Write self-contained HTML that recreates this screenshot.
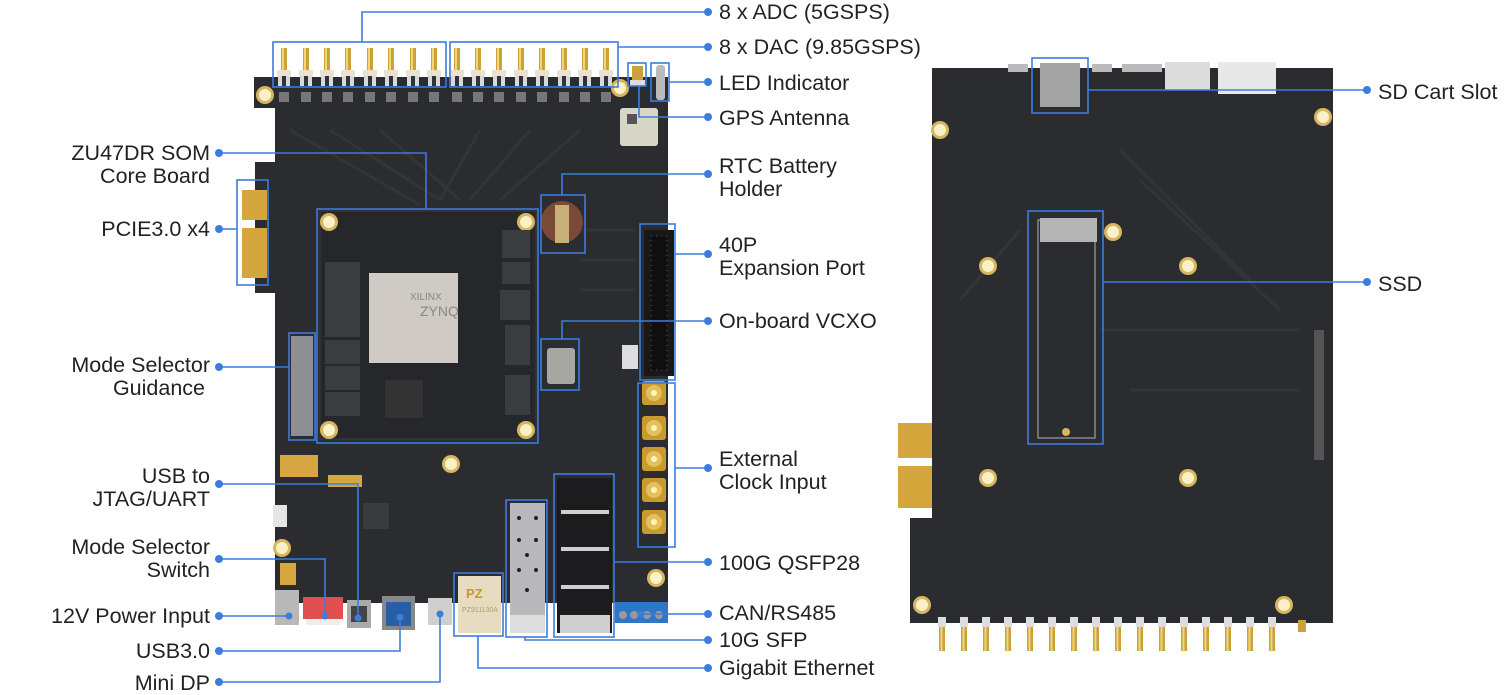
<!DOCTYPE html>
<html><head><meta charset="utf-8"><style>
html,body{margin:0;padding:0;background:#fff;}
svg{display:block;}
text{font-family:"Liberation Sans",sans-serif;font-size:21.5px;fill:#222;}
</style></head><body>
<svg width="1508" height="695" viewBox="0 0 1508 695" xmlns="http://www.w3.org/2000/svg">
<defs>
<g id="smaV">
  <rect x="-3" y="0" width="6" height="24" fill="#c9a23a"/>
  <rect x="-2" y="0" width="2" height="24" fill="#f0d77a"/>
  <rect x="-7" y="22" width="14" height="6" fill="#e8e2cf"/>
  <rect x="-6" y="28" width="12" height="10" fill="#d8d8d8"/>
  <rect x="-2" y="28" width="4" height="10" fill="#333"/>
</g>
<g id="smaB">
  <rect x="-4" y="-8" width="8" height="10" fill="#ddd"/>
  <rect x="-3" y="2" width="6" height="24" fill="#c9a23a"/>
  <rect x="-1.5" y="2" width="2" height="24" fill="#f0d77a"/>
</g>
<g id="smaF">
  <rect x="-12" y="-12" width="24" height="24" rx="3" fill="#c99a2e"/>
  <circle r="8" fill="#e3c05a"/><circle r="3" fill="#fff3c0"/>
</g>
<g id="hole"><circle r="9" fill="#d6b760"/><circle r="6" fill="#fbf1c8"/></g>
</defs>

<!-- LEFT BOARD -->
<polygon points="254,77 668,77 668,603 275,603 275,293 255,293 255,162 275,162 275,108 254,108" fill="#2b2c30"/>
<g stroke="#333438" stroke-width="3" fill="none">
<path d="M290,130 L420,205 M330,130 L440,200 M380,130 L460,200 M480,130 L440,200 M530,130 L470,200 M580,130 L500,200"/>
<path d="M580,230 H635 M580,260 H635 M580,290 H635"/>
</g>
<g>
<use href="#smaV" x="284" y="48"/><use href="#smaV" x="306" y="48"/><use href="#smaV" x="327" y="48"/><use href="#smaV" x="348" y="48"/>
<use href="#smaV" x="370" y="48"/><use href="#smaV" x="391" y="48"/><use href="#smaV" x="413" y="48"/><use href="#smaV" x="434" y="48"/>
<use href="#smaV" x="457" y="48"/><use href="#smaV" x="478" y="48"/><use href="#smaV" x="499" y="48"/><use href="#smaV" x="521" y="48"/>
<use href="#smaV" x="542" y="48"/><use href="#smaV" x="564" y="48"/><use href="#smaV" x="585" y="48"/><use href="#smaV" x="606" y="48"/>
</g>
<g fill="#777">
<rect x="279" y="92" width="10" height="10"/><rect x="301" y="92" width="10" height="10"/><rect x="322" y="92" width="10" height="10"/><rect x="343" y="92" width="10" height="10"/>
<rect x="365" y="92" width="10" height="10"/><rect x="386" y="92" width="10" height="10"/><rect x="408" y="92" width="10" height="10"/><rect x="429" y="92" width="10" height="10"/>
<rect x="452" y="92" width="10" height="10"/><rect x="473" y="92" width="10" height="10"/><rect x="494" y="92" width="10" height="10"/><rect x="516" y="92" width="10" height="10"/>
<rect x="537" y="92" width="10" height="10"/><rect x="559" y="92" width="10" height="10"/><rect x="580" y="92" width="10" height="10"/><rect x="601" y="92" width="10" height="10"/>
</g>
<use href="#hole" x="265" y="95"/><use href="#hole" x="620" y="88"/>
<rect x="632" y="66" width="11" height="14" fill="#c9a23a"/><rect x="630" y="80" width="15" height="6" fill="#ddd"/>
<rect x="656" y="65" width="9" height="35" rx="3" fill="#bbb"/>
<rect x="620" y="108" width="38" height="38" rx="3" fill="#d8d6c6"/><rect x="627" y="114" width="10" height="10" fill="#555"/>
<rect x="242" y="190" width="25" height="30" fill="#d4a63c"/><rect x="242" y="228" width="25" height="50" fill="#d4a63c"/>
<rect x="291" y="336" width="22" height="100" fill="#8d8f94"/>
<rect x="320" y="211" width="216" height="228" fill="#26272a" stroke="#3a3b3f"/>
<use href="#hole" x="329" y="222"/><use href="#hole" x="526" y="222"/><use href="#hole" x="329" y="430"/><use href="#hole" x="526" y="430"/>
<rect x="369" y="273" width="89" height="90" fill="#cfcac3"/>
<text x="410" y="300" style="font-size:10px;fill:#888">XILINX</text>
<text x="420" y="316" style="font-size:14px;fill:#888">ZYNQ</text>
<g fill="#3b3c40"><rect x="325" y="262" width="35" height="75"/><rect x="325" y="340" width="35" height="24"/><rect x="325" y="366" width="35" height="24"/><rect x="325" y="392" width="35" height="24"/>
<rect x="502" y="230" width="28" height="28"/><rect x="502" y="262" width="28" height="22"/><rect x="500" y="290" width="30" height="30"/><rect x="505" y="325" width="25" height="40"/><rect x="505" y="375" width="25" height="40"/></g>
<rect x="385" y="380" width="38" height="38" fill="#333"/>
<circle cx="562" cy="222" r="21" fill="#7a4a36"/><rect x="555" y="205" width="14" height="38" fill="#c8b07a"/>
<rect x="644" y="230" width="30" height="146" fill="#18181a"/>
<rect x="651" y="236" width="16" height="134" fill="#0f0f10" stroke="#555" stroke-dasharray="1 4"/>
<rect x="547" y="348" width="28" height="36" rx="3" fill="#a7a6a1"/>
<rect x="622" y="345" width="16" height="24" fill="#ddd"/>
<use href="#smaF" x="654" y="393"/><use href="#smaF" x="654" y="428"/><use href="#smaF" x="654" y="459"/><use href="#smaF" x="654" y="490"/><use href="#smaF" x="654" y="522"/>
<use href="#hole" x="451" y="464"/><use href="#hole" x="656" y="578"/><use href="#hole" x="282" y="548"/>
<rect x="280" y="455" width="38" height="22" fill="#d8a640"/><rect x="328" y="475" width="34" height="12" fill="#d8a640"/>
<rect x="280" y="563" width="16" height="22" fill="#d8a640"/>
<rect x="273" y="505" width="14" height="22" fill="#e5e5e5"/>
<rect x="363" y="503" width="26" height="26" fill="#3a3b3f"/>
<rect x="275" y="590" width="24" height="35" fill="#b8b8b8"/>
<rect x="303" y="597" width="40" height="22" fill="#e05050"/><rect x="306" y="619" width="34" height="6" fill="#eee"/>
<rect x="347" y="600" width="24" height="28" fill="#aaa"/><rect x="351" y="606" width="16" height="16" fill="#444"/>
<rect x="382" y="596" width="33" height="34" fill="#888"/><rect x="386" y="602" width="25" height="24" fill="#2a5fa8"/>
<rect x="428" y="598" width="24" height="27" fill="#cfcfcf"/>
<rect x="458" y="576" width="43" height="57" fill="#e8dcc0"/>
<text x="466" y="598" style="font-size:13px;fill:#c09a2a;font-weight:bold">PZ</text>
<text x="462" y="612" style="font-size:7px;fill:#b09a6a">PZ911130A</text>
<rect x="510" y="503" width="35" height="130" fill="#b9b9bb"/>
<g fill="#222"><circle cx="519" cy="518" r="2"/><circle cx="536" cy="518" r="2"/><circle cx="519" cy="540" r="2"/><circle cx="536" cy="540" r="2"/><circle cx="527" cy="555" r="2"/><circle cx="519" cy="570" r="2"/><circle cx="536" cy="570" r="2"/><circle cx="527" cy="590" r="2"/></g>
<rect x="510" y="615" width="35" height="18" fill="#ddd"/>
<rect x="557" y="478" width="55" height="155" fill="#1c1c1e"/>
<g fill="#cfcfcf"><rect x="561" y="510" width="48" height="4"/><rect x="561" y="547" width="48" height="4"/><rect x="561" y="585" width="48" height="4"/><rect x="560" y="615" width="50" height="18"/></g>
<rect x="615" y="602" width="53" height="21" fill="#2d76c8"/>
<g fill="#999"><circle cx="623" cy="615" r="4"/><circle cx="634" cy="615" r="4"/><circle cx="647" cy="615" r="4"/><circle cx="659" cy="615" r="4"/></g>

<!-- RIGHT BOARD -->
<polygon points="932,68 1333,68 1333,623 910,623 910,518 932,518" fill="#2b2c30"/>
<rect x="898" y="423" width="34" height="35" fill="#d4a63c"/><rect x="898" y="466" width="34" height="42" fill="#d4a63c"/>
<rect x="898" y="458" width="34" height="8" fill="#fff"/>
<g stroke="#333438" stroke-width="3" fill="none"><path d="M1120,150 L1250,280 M1140,180 L1280,310 M960,300 L1020,230 M1100,330 H1300 M1130,390 H1300"/></g>
<rect x="1040" y="63" width="40" height="44" fill="#a3a3a3"/>
<rect x="1165" y="62" width="45" height="28" fill="#dcdcdc"/><rect x="1218" y="62" width="58" height="32" fill="#e8e8e8"/>
<rect x="1122" y="64" width="40" height="8" fill="#bbb"/><rect x="1092" y="64" width="20" height="8" fill="#bbb"/><rect x="1008" y="64" width="20" height="8" fill="#bbb"/>
<rect x="1038" y="220" width="57" height="218" fill="none" stroke="#888" stroke-width="1.5"/>
<rect x="1040" y="218" width="57" height="24" fill="#b5b5b5"/>
<circle cx="1066" cy="432" r="4" fill="#d6b760"/>
<use href="#hole" x="940" y="130"/><use href="#hole" x="1323" y="117"/>
<use href="#hole" x="988" y="266"/><use href="#hole" x="1188" y="266"/><use href="#hole" x="1113" y="232"/>
<use href="#hole" x="988" y="478"/><use href="#hole" x="1188" y="478"/>
<use href="#hole" x="922" y="605"/><use href="#hole" x="1284" y="605"/>
<rect x="1314" y="330" width="10" height="130" fill="#555"/>
<g>
<use href="#smaB" x="942" y="625"/><use href="#smaB" x="964" y="625"/><use href="#smaB" x="986" y="625"/><use href="#smaB" x="1008" y="625"/>
<use href="#smaB" x="1030" y="625"/><use href="#smaB" x="1052" y="625"/><use href="#smaB" x="1074" y="625"/><use href="#smaB" x="1096" y="625"/>
<use href="#smaB" x="1118" y="625"/><use href="#smaB" x="1140" y="625"/><use href="#smaB" x="1162" y="625"/><use href="#smaB" x="1184" y="625"/>
<use href="#smaB" x="1206" y="625"/><use href="#smaB" x="1228" y="625"/><use href="#smaB" x="1250" y="625"/><use href="#smaB" x="1272" y="625"/>
</g>
<rect x="1298" y="620" width="8" height="12" fill="#c9a23a"/>

<!-- ANNOTATION BOXES & LINES -->
<g fill="none" stroke="#3b7ddd" stroke-width="1.6">
<rect x="273" y="42" width="173" height="45"/>
<rect x="450" y="42" width="168" height="45"/>
<rect x="628" y="63" width="18" height="23"/>
<rect x="651" y="63" width="18" height="38"/>
<rect x="541" y="195" width="44" height="58"/>
<rect x="640" y="224" width="35" height="156"/>
<rect x="541" y="339" width="38" height="51"/>
<rect x="638" y="383" width="37" height="164"/>
<rect x="554" y="474" width="60" height="163"/>
<rect x="506" y="500" width="41" height="137"/>
<rect x="454" y="573" width="49" height="63"/>
<rect x="317" y="209" width="221" height="234"/>
<rect x="237" y="180" width="31" height="105"/>
<rect x="289" y="333" width="26" height="107"/>
<rect x="1032" y="58" width="56" height="55"/>
<rect x="1028" y="211" width="75" height="233"/>
<path d="M708,12 H362 V42"/>
<path d="M708,47 H618"/>
<path d="M708,82 H669"/>
<path d="M639,86 V117 H708"/>
<path d="M708,174 H562 V195"/>
<path d="M675,254 H708"/>
<path d="M708,321 H562 V339"/>
<path d="M675,468 H708"/>
<path d="M614,562 H708"/>
<path d="M641,614 H708"/>
<path d="M525,637 V640 H708"/>
<path d="M478,636 V668 H708"/>
<path d="M219,153 H426 V209"/>
<path d="M219,229 H237"/>
<path d="M219,367 H289"/>
<path d="M219,484 H358 V618"/>
<path d="M219,559 H325 V616"/>
<path d="M219,616 H289"/>
<path d="M219,651 H400 V617"/>
<path d="M219,682 H440 V614"/>
<path d="M1088,90 H1367"/>
<path d="M1103,282 H1367"/>
</g>
<g fill="#3b7ddd">
<circle cx="708" cy="12" r="4"/><circle cx="708" cy="47" r="4"/><circle cx="708" cy="82" r="4"/><circle cx="708" cy="117" r="4"/>
<circle cx="708" cy="174" r="4"/><circle cx="708" cy="254" r="4"/><circle cx="708" cy="321" r="4"/><circle cx="708" cy="468" r="4"/>
<circle cx="708" cy="562" r="4"/><circle cx="708" cy="614" r="4"/><circle cx="708" cy="640" r="4"/><circle cx="708" cy="668" r="4"/>
<circle cx="219" cy="153" r="4"/><circle cx="219" cy="229" r="4"/><circle cx="219" cy="367" r="4"/><circle cx="219" cy="484" r="4"/>
<circle cx="219" cy="559" r="4"/><circle cx="219" cy="616" r="4"/><circle cx="219" cy="651" r="4"/><circle cx="219" cy="682" r="4"/>
<circle cx="1367" cy="90" r="4"/><circle cx="1367" cy="282" r="4"/>
<circle cx="641" cy="614" r="3.5"/><circle cx="289" cy="616" r="3.5"/><circle cx="325" cy="616" r="3.5"/><circle cx="358" cy="618" r="3.5"/><circle cx="400" cy="617" r="3.5"/><circle cx="440" cy="614" r="3.5"/>
</g>

<!-- LABELS -->
<g>
<text x="719" y="19">8 x ADC (5GSPS)</text>
<text x="719" y="54">8 x DAC (9.85GSPS)</text>
<text x="719" y="90">LED Indicator</text>
<text x="719" y="125">GPS Antenna</text>
<text x="719" y="173">RTC Battery</text>
<text x="719" y="196">Holder</text>
<text x="719" y="252">40P</text>
<text x="719" y="275">Expansion Port</text>
<text x="719" y="328">On-board VCXO</text>
<text x="719" y="466">External</text>
<text x="719" y="489">Clock Input</text>
<text x="719" y="570">100G QSFP28</text>
<text x="719" y="620">CAN/RS485</text>
<text x="719" y="647">10G SFP</text>
<text x="719" y="675">Gigabit Ethernet</text>
<text x="1378" y="99">SD Cart Slot</text>
<text x="1378" y="291">SSD</text>
</g>
<g text-anchor="end">
<text x="210" y="160">ZU47DR SOM</text>
<text x="210" y="183">Core Board</text>
<text x="210" y="236">PCIE3.0 x4</text>
<text x="210" y="372">Mode Selector</text>
<text x="205" y="395">Guidance</text>
<text x="210" y="483">USB to</text>
<text x="210" y="506">JTAG/UART</text>
<text x="210" y="554">Mode Selector</text>
<text x="210" y="577">Switch</text>
<text x="210" y="623">12V Power Input</text>
<text x="210" y="658">USB3.0</text>
<text x="210" y="690">Mini DP</text>
</g>
</svg>
</body></html>
